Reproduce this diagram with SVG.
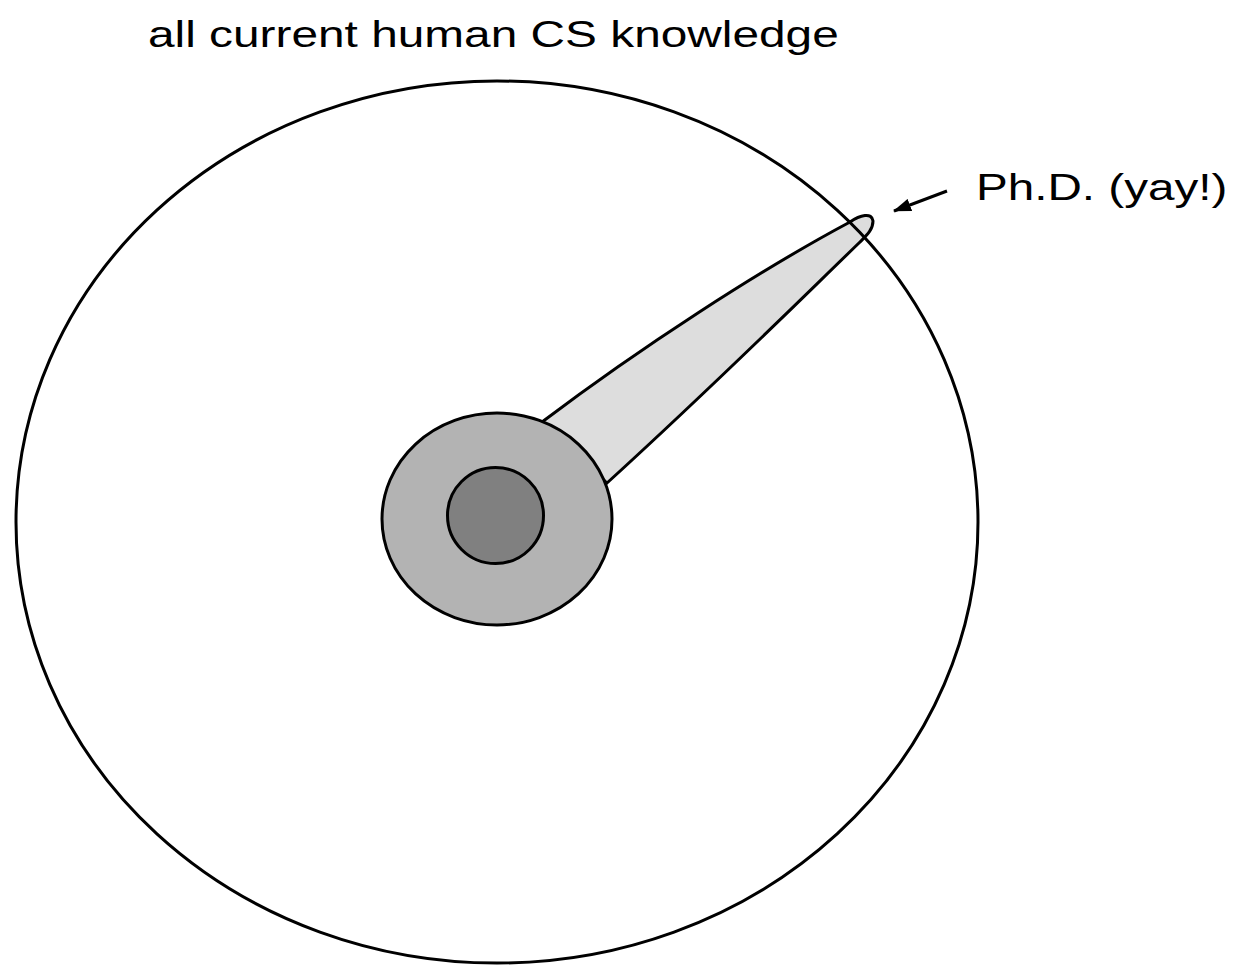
<svg xmlns="http://www.w3.org/2000/svg" width="1233" height="968" viewBox="0 0 1233 968">
<style>
.lbl{font-family:"Liberation Sans",Arial,sans-serif;font-size:37.5px;fill:#000}
.ol{stroke:#000;stroke-width:3}
</style>
<defs>
<marker id="ah" markerWidth="18" markerHeight="13" refX="17" refY="6.5" orient="auto" markerUnits="userSpaceOnUse">
<path d="M0,0 L18,6.5 L0,13 Z" fill="#000"/>
</marker>
</defs>
<rect width="1233" height="968" fill="#fff"/>
<g id="title"><text class="lbl" transform="translate(148,47) scale(1.275,1)" x="0" y="0">all current human CS knowledge</text></g>
<g id="phd-spike"><path class="ol" fill="#dddddd" d="M542 422 C640 348 760 270 850 222 C860 215 872 212 873 221 C873 230 866 236 860 242 C800 300 720 380 607 483 Z"/></g>
<g id="all-knowledge"><ellipse class="ol" fill="none" cx="497" cy="522" rx="481" ry="441" stroke-width="2.5"/></g>
<g id="masters"><ellipse class="ol" fill="#b3b3b3" cx="497" cy="519" rx="115" ry="106"/></g>
<g id="bachelors"><circle class="ol" fill="#808080" cx="495.5" cy="515.5" r="48"/></g>
<g id="phd-label"><text class="lbl" transform="translate(976,200) scale(1.27,1)" x="0" y="0">Ph.D. (yay!)</text></g>
<g id="connectors"><line x1="947" y1="191" x2="894" y2="211" stroke="#000" stroke-width="3" marker-end="url(#ah)"/></g>
</svg>
